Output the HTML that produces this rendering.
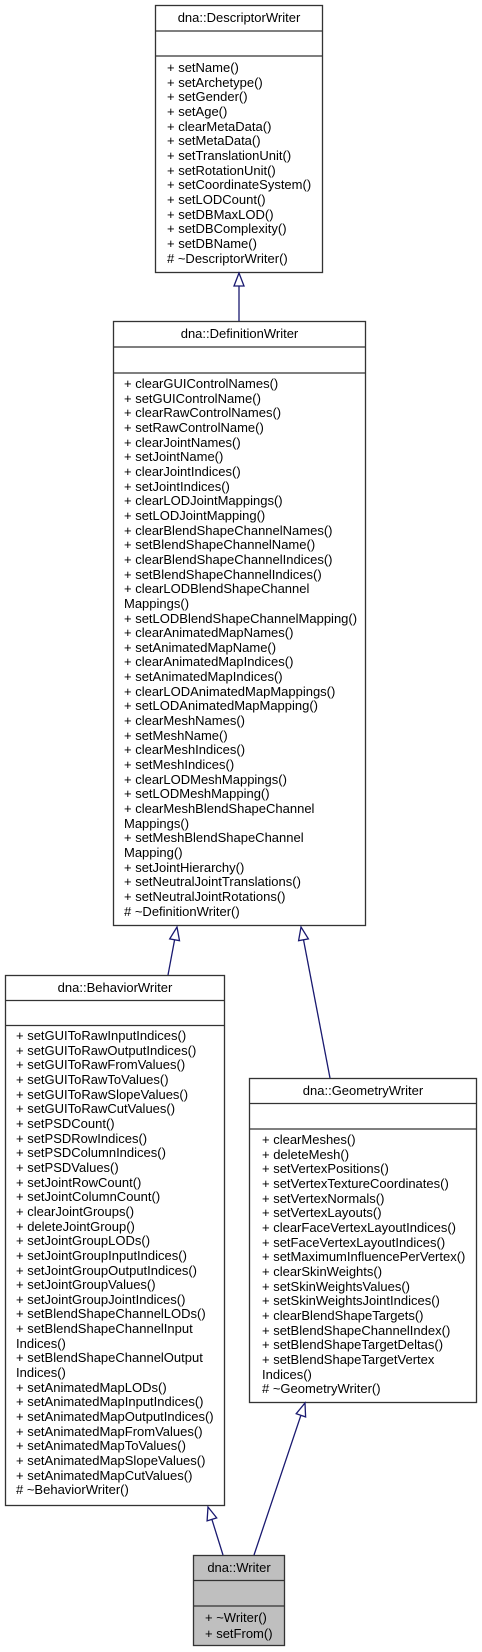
<!DOCTYPE html>
<html><head><meta charset="utf-8"><style>
html,body{margin:0;padding:0;background:#fff;}
body{width:482px;height:1652px;position:relative;overflow:hidden;font-family:"Liberation Sans",Arial,sans-serif;font-size:13px;color:#000;}
.t{position:absolute;line-height:14.65px;white-space:pre;}
.h{position:absolute;text-align:center;line-height:26px;}
svg{position:absolute;left:0;top:0;}
</style></head><body>
<svg width="482" height="1652" viewBox="0 0 482 1652">
<g fill="#fff" stroke="#333" stroke-width="1.3">
<rect x="155.5" y="5.5" width="167" height="267"/>
<line x1="155.5" y1="31" x2="322.5" y2="31"/><line x1="155.5" y1="56" x2="322.5" y2="56"/>
<rect x="113.5" y="321.5" width="252" height="604"/>
<line x1="113.5" y1="347" x2="365.5" y2="347"/><line x1="113.5" y1="373" x2="365.5" y2="373"/>
<rect x="5.5" y="975.5" width="219" height="530"/>
<line x1="5.5" y1="1000.5" x2="224.5" y2="1000.5"/><line x1="5.5" y1="1025.5" x2="224.5" y2="1025.5"/>
<rect x="249.5" y="1078.5" width="227" height="324"/>
<line x1="249.5" y1="1103.5" x2="476.5" y2="1103.5"/><line x1="249.5" y1="1129" x2="476.5" y2="1129"/>
<rect x="193.5" y="1555.5" width="91" height="90" fill="#bfbfbf"/>
<line x1="193.5" y1="1580.5" x2="284.5" y2="1580.5"/><line x1="193.5" y1="1606" x2="284.5" y2="1606"/>
</g>
<g stroke="#191970" stroke-width="1.3" fill="#fff">
<line x1="239" y1="286" x2="239" y2="321"/>
<polygon points="239,273 234,286 244,286"/>
<line x1="174.6" y1="939.8" x2="168" y2="975"/>
<polygon points="177,927 179.5,940.7 169.7,938.9"/>
<line x1="303.5" y1="939.8" x2="330" y2="1078"/>
<polygon points="301,927 308.4,938.9 298.6,940.7"/>
<line x1="211.9" y1="1519.4" x2="223" y2="1555"/>
<polygon points="208,1507 216.7,1517.9 207.1,1520.9"/>
<line x1="300.9" y1="1415.3" x2="254" y2="1555"/>
<polygon points="305,1403 305.6,1416.9 296.2,1413.7"/>
</g>
</svg>

<div class="h" style="left:155px;top:5px;width:168px;">dna::DescriptorWriter</div>
<div class="t" style="left:167px;top:61px;">+ setName()
+ setArchetype()
+ setGender()
+ setAge()
+ clearMetaData()
+ setMetaData()
+ setTranslationUnit()
+ setRotationUnit()
+ setCoordinateSystem()
+ setLODCount()
+ setDBMaxLOD()
+ setDBComplexity()
+ setDBName()
# ~DescriptorWriter()</div>

<div class="h" style="left:113px;top:321px;width:253px;">dna::DefinitionWriter</div>
<div class="t" style="left:124px;top:377px;">+ clearGUIControlNames()
+ setGUIControlName()
+ clearRawControlNames()
+ setRawControlName()
+ clearJointNames()
+ setJointName()
+ clearJointIndices()
+ setJointIndices()
+ clearLODJointMappings()
+ setLODJointMapping()
+ clearBlendShapeChannelNames()
+ setBlendShapeChannelName()
+ clearBlendShapeChannelIndices()
+ setBlendShapeChannelIndices()
+ clearLODBlendShapeChannel
Mappings()
+ setLODBlendShapeChannelMapping()
+ clearAnimatedMapNames()
+ setAnimatedMapName()
+ clearAnimatedMapIndices()
+ setAnimatedMapIndices()
+ clearLODAnimatedMapMappings()
+ setLODAnimatedMapMapping()
+ clearMeshNames()
+ setMeshName()
+ clearMeshIndices()
+ setMeshIndices()
+ clearLODMeshMappings()
+ setLODMeshMapping()
+ clearMeshBlendShapeChannel
Mappings()
+ setMeshBlendShapeChannel
Mapping()
+ setJointHierarchy()
+ setNeutralJointTranslations()
+ setNeutralJointRotations()
# ~DefinitionWriter()</div>

<div class="h" style="left:5px;top:975px;width:220px;">dna::BehaviorWriter</div>
<div class="t" style="left:16px;top:1029px;">+ setGUIToRawInputIndices()
+ setGUIToRawOutputIndices()
+ setGUIToRawFromValues()
+ setGUIToRawToValues()
+ setGUIToRawSlopeValues()
+ setGUIToRawCutValues()
+ setPSDCount()
+ setPSDRowIndices()
+ setPSDColumnIndices()
+ setPSDValues()
+ setJointRowCount()
+ setJointColumnCount()
+ clearJointGroups()
+ deleteJointGroup()
+ setJointGroupLODs()
+ setJointGroupInputIndices()
+ setJointGroupOutputIndices()
+ setJointGroupValues()
+ setJointGroupJointIndices()
+ setBlendShapeChannelLODs()
+ setBlendShapeChannelInput
Indices()
+ setBlendShapeChannelOutput
Indices()
+ setAnimatedMapLODs()
+ setAnimatedMapInputIndices()
+ setAnimatedMapOutputIndices()
+ setAnimatedMapFromValues()
+ setAnimatedMapToValues()
+ setAnimatedMapSlopeValues()
+ setAnimatedMapCutValues()
# ~BehaviorWriter()</div>

<div class="h" style="left:249px;top:1078px;width:228px;">dna::GeometryWriter</div>
<div class="t" style="left:262px;top:1133px;">+ clearMeshes()
+ deleteMesh()
+ setVertexPositions()
+ setVertexTextureCoordinates()
+ setVertexNormals()
+ setVertexLayouts()
+ clearFaceVertexLayoutIndices()
+ setFaceVertexLayoutIndices()
+ setMaximumInfluencePerVertex()
+ clearSkinWeights()
+ setSkinWeightsValues()
+ setSkinWeightsJointIndices()
+ clearBlendShapeTargets()
+ setBlendShapeChannelIndex()
+ setBlendShapeTargetDeltas()
+ setBlendShapeTargetVertex
Indices()
# ~GeometryWriter()</div>

<div class="h" style="left:193px;top:1555px;width:92px;">dna::Writer</div>
<div class="t" style="left:205px;top:1610px;line-height:16px;">+ ~Writer()
+ setFrom()</div>
</body></html>
